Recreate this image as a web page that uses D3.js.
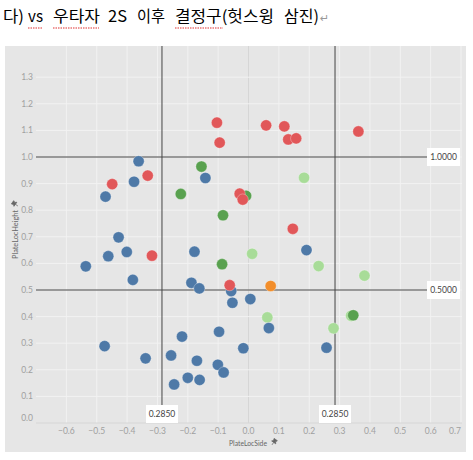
<!DOCTYPE html>
<html>
<head>
<meta charset="utf-8">
<script src="https://cdn.jsdelivr.net/npm/d3@7"></script>
<style>
  body { margin: 0; background: #fff; }
  svg { display: block; }
</style>
</head>
<body>
<svg id="chart" width="473" height="460"></svg>
<script>
// pitch type per point, with location (PlateLocSide, PlateLocHeight)
const blueSide = [-0.362, -0.142, -0.377, -0.471, -0.428, -0.178, 0.191, -0.462, -0.401, -0.536,
  -0.381, -0.188, -0.162, -0.057, -0.053, 0.006, -0.097, -0.219, 0.067, -0.017,
  0.257, -0.474, -0.339, -0.255, -0.170, -0.101, -0.082, -0.200, -0.161, -0.245]
const blueHeight = [0.984, 0.921, 0.907, 0.851, 0.698, 0.644, 0.650, 0.627, 0.643, 0.589,
  0.538, 0.527, 0.506, 0.496, 0.452, 0.466, 0.343, 0.325, 0.357, 0.281,
  0.283, 0.289, 0.243, 0.254, 0.234, 0.219, 0.190, 0.170, 0.162, 0.145]
const redSide = [-0.104, -0.095, 0.058, 0.118, 0.131, 0.157, 0.362, -0.332, -0.449, -0.029, -0.019, 0.146, -0.318, -0.062]
const redHeight = [1.129, 1.054, 1.119, 1.115, 1.066, 1.070, 1.096, 0.930, 0.898, 0.862, 0.840, 0.730, 0.629, 0.518]
const greenSide = [-0.155, -0.223, -0.008, -0.084, -0.087, 0.345]
const greenHeight = [0.964, 0.861, 0.854, 0.781, 0.597, 0.405]
const lightSide = [0.183, 0.012, 0.231, 0.382, 0.062, 0.338, 0.280]
const lightHeight = [0.922, 0.636, 0.590, 0.554, 0.397, 0.403, 0.356]
const orangeSide = [0.073]
const orangeHeight = [0.515]

const xTicks = [-0.6, -0.5, -0.4, -0.3, -0.2, -0.1, 0.0, 0.1, 0.2, 0.3, 0.4, 0.5, 0.6, 0.7]
const yTicks = [0.0, 0.1, 0.2, 0.3, 0.4, 0.5, 0.6, 0.7, 0.8, 0.9, 1.0, 1.1, 1.2, 1.3]
const refSide = [-0.285, 0.285]
const refHeight = [1.0, 0.5]

const titleWords = ['다)', 'vs', '우타자', '2S', '이후', '결정구(헛스윙', '삼진)']

const svg = d3.select('#chart')

// title: words placed as laid out in the document, with spell-check squiggles
const wordX = [3, 28, 53, 108, 137, 175, 284]
const wordW = [21, 15, 47, 19, 28, 99, 35]
titleWords.forEach((w, i) => {
  svg.append('text')
    .attr('x', wordX[i])
    .attr('y', 22)
    .attr('textLength', wordW[i])
    .attr('lengthAdjust', 'spacingAndGlyphs')
    .style('font', '16px "Noto Sans CJK KR", sans-serif')
    .style('fill', '#000')
    .text(w)
})
svg.append('text')
  .attr('x', 320).attr('y', 22)
  .style('font', '11px "DejaVu Sans", sans-serif')
  .style('fill', '#999')
  .text('↵')

const squiggle = [[28, 43], [53, 99], [175, 223]]
squiggle.forEach(s => {
  svg.append('line')
    .attr('x1', s[0]).attr('x2', s[1])
    .attr('y1', 28).attr('y2', 28)
    .style('stroke', '#e03030')
    .style('stroke-width', 1.2)
    .style('stroke-dasharray', '1.5,1')
})

// panel
const panel = { left: 5, top: 46, right: 466, bottom: 452 }
svg.append('rect')
  .attr('x', panel.left).attr('y', panel.top)
  .attr('width', panel.right - panel.left).attr('height', panel.bottom - panel.top)
  .style('fill', '#e6e6e6')

const x = d3.scaleLinear().domain([-0.7, 0.7]).range([36, 461])
const y = d3.scaleLinear().domain([0, 1.4]).range([423, 50.6])

const g = svg.append('g')

// gridlines
g.selectAll('line.vgrid').data(xTicks).enter().append('line')
  .attr('class', 'vgrid')
  .attr('x1', d => x(d)).attr('x2', d => x(d))
  .attr('y1', panel.top).attr('y2', y(0))
  .style('stroke', d => d === 0 ? '#d6d6d6' : '#f2f2f2')
  .style('stroke-width', 1)

g.selectAll('line.hgrid').data(yTicks).enter().append('line')
  .attr('class', 'hgrid')
  .attr('x1', x(-0.7)).attr('x2', 462)
  .attr('y1', d => y(d)).attr('y2', d => y(d))
  .style('stroke', d => d === 0 ? '#d6d6d6' : '#f2f2f2')
  .style('stroke-width', 1)

// tick labels
const tickFont = '8.5px Lato, "Open Sans", sans-serif'
g.selectAll('text.xtick').data(xTicks).enter().append('text')
  .attr('class', 'xtick')
  .attr('x', d => d === 0.7 ? x(d) - 6 : x(d))
  .attr('y', 434)
  .attr('text-anchor', 'middle')
  .style('font', tickFont)
  .style('fill', '#a0a0a0')
  .text(d => d3.format('.1f')(d))

g.selectAll('text.ytick').data(yTicks).enter().append('text')
  .attr('class', 'ytick')
  .attr('x', 33)
  .attr('y', d => d === 0 ? y(d) - 5 : y(d))
  .attr('dy', '0.35em')
  .attr('text-anchor', 'end')
  .style('font', tickFont)
  .style('fill', '#a0a0a0')
  .text(d => d3.format('.1f')(d))

// axis titles with pin glyph
function pin (sel, tx, ty, rot) {
  sel.append('path')
    .attr('transform', `translate(${tx},${ty}) rotate(${rot})`)
    .attr('d', 'M-2,-3 L2,-3 L1.2,-1 L2.5,0.5 L-2.5,0.5 L-1.2,-1 Z M0,0.5 L0,3.5')
    .style('fill', '#666')
    .style('stroke', '#666')
    .style('stroke-width', 0.7)
}

svg.append('text')
  .attr('x', 229)
  .attr('y', 446)
  .attr('textLength', 38)
  .attr('lengthAdjust', 'spacingAndGlyphs')
  .style('font', '7.5px Lato, "Open Sans", sans-serif')
  .style('fill', '#666')
  .text('PlateLocSide')
pin(svg, 274, 442, 35)

svg.append('text')
  .attr('transform', 'translate(18,259) rotate(-90)')
  .attr('textLength', 49)
  .attr('lengthAdjust', 'spacingAndGlyphs')
  .style('font', '7.5px Lato, "Open Sans", sans-serif')
  .style('fill', '#666')
  .text('PlateLocHeight')
pin(svg, 15, 204, -55)

// reference lines
g.selectAll('line.vref').data(refSide).enter().append('line')
  .attr('class', 'vref')
  .attr('x1', d => x(d)).attr('x2', d => x(d))
  .attr('y1', panel.top).attr('y2', 405)
  .style('stroke', '#444')
  .style('stroke-width', 1)

g.selectAll('line.href').data(refHeight).enter().append('line')
  .attr('class', 'href')
  .attr('x1', x(-0.7)).attr('x2', 427)
  .attr('y1', d => y(d)).attr('y2', d => y(d))
  .style('stroke', '#444')
  .style('stroke-width', 1)

// points
const groups = [
  { side: lightSide, height: lightHeight, color: '#a8dc98' },
  { side: blueSide, height: blueHeight, color: '#4e79a7' },
  { side: greenSide, height: greenHeight, color: '#59a14f' },
  { side: redSide, height: redHeight, color: '#e15759' },
  { side: orangeSide, height: orangeHeight, color: '#f28e2b' }
]

groups.forEach(grp => {
  const pts = grp.side.map((s, i) => ({ s, h: grp.height[i] }))
  g.append('g').selectAll('circle').data(pts).enter().append('circle')
    .attr('cx', d => x(d.s))
    .attr('cy', d => y(d.h))
    .attr('r', 5.6)
    .style('fill', grp.color)
    .style('stroke', '#fff')
    .style('stroke-opacity', 0.5)
    .style('stroke-width', 0.6)
})

// reference labels
const labelFont = '8.5px Lato, "Open Sans", sans-serif'
refSide.forEach(v => {
  g.append('rect')
    .attr('x', x(v) - 16).attr('y', 405)
    .attr('width', 32).attr('height', 18)
    .style('fill', '#fff')
  g.append('text')
    .attr('x', x(v)).attr('y', 414)
    .attr('dy', '0.35em')
    .attr('text-anchor', 'middle')
    .style('font', labelFont)
    .style('fill', '#444')
    .text(d3.format('.4f')(Math.abs(v)))
})

refHeight.forEach(v => {
  g.append('rect')
    .attr('x', 427).attr('y', y(v) - 9)
    .attr('width', 33).attr('height', 18)
    .style('fill', '#fff')
  g.append('text')
    .attr('x', 443.5).attr('y', y(v))
    .attr('dy', '0.35em')
    .attr('text-anchor', 'middle')
    .style('font', labelFont)
    .style('fill', '#444')
    .text(d3.format('.4f')(v))
})
</script>
</body>
</html>
